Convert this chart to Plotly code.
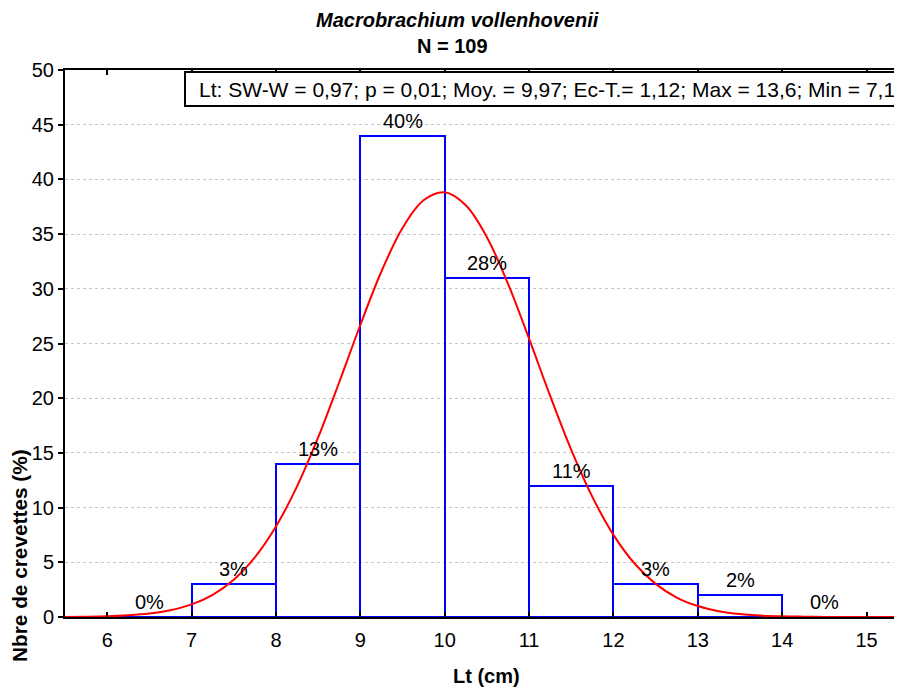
import plotly.graph_objects as go

# Histogram data
bin_left = [6, 7, 8, 9, 10, 11, 12, 13, 14]
counts = [0, 3, 14, 44, 31, 12, 3, 2, 0]
pct_labels = ["0%", "3%", "13%", "40%", "28%", "11%", "3%", "2%", "0%"]

# Fitted normal curve
curve_x = [5.5, 5.75, 6, 6.25, 6.5, 6.75, 7, 7.25, 7.5, 7.75, 8, 8.25, 8.5, 8.75, 9, 9.25, 9.5,
           9.75, 10, 10.25, 10.5, 10.75, 11, 11.25, 11.5, 11.75, 12, 12.25, 12.5, 12.75, 13,
           13.25, 13.5, 13.75, 14, 14.25, 14.5, 14.75, 15, 15.25, 15.5]
curve_y = [0.01, 0.03, 0.07, 0.16, 0.32, 0.62, 1.15, 2.03, 3.41, 5.45, 8.27, 11.94, 16.41,
           21.46, 26.69, 31.58, 35.56, 38.09, 38.82, 37.63, 34.72, 30.47, 25.44, 20.21, 15.27,
           10.98, 7.51, 4.89, 3.03, 1.78, 1.00, 0.53, 0.27, 0.13, 0.06, 0.03, 0.01, 0.004,
           0.0015, 0.0005, 0.0002]

x_ticks = [6, 7, 8, 9, 10, 11, 12, 13, 14, 15]
y_ticks = [0, 5, 10, 15, 20, 25, 30, 35, 40, 45, 50]

title_line1 = "Macrobrachium vollenhovenii"
title_line2 = "N = 109"
stats_text = "Lt: SW-W = 0,97; p = 0,01; Moy. = 9,97; Ec-T.= 1,12; Max = 13,6; Min = 7,1"
x_title = "Lt (cm)"
y_title = "Nbre de crevettes (%)"

FONT = "Liberation Sans, Arial, sans-serif"

# plot area in page pixels: x 65..902, y 70..617
PX0, PX1, PY0, PY1 = 65, 902, 70, 617


def px(sx):
    return (sx - PX0) / (PX1 - PX0)


def py(sy):
    return (PY1 - sy) / (PY1 - PY0)


bin_centers = [b + 0.5 for b in bin_left]

fig = go.Figure()
fig.add_trace(go.Bar(
    x=bin_centers, y=counts, width=1,
    marker=dict(color="rgba(0,0,0,0)", line=dict(color="#0000ff", width=2)),
    showlegend=False, hoverinfo="skip",
))
fig.add_trace(go.Scatter(
    x=curve_x, y=curve_y, mode="lines",
    line=dict(color="#ff0000", width=2, shape="spline"),
    showlegend=False, hoverinfo="skip",
))

annotations = []
for xc, yv, lab in zip(bin_centers, counts, pct_labels):
    annotations.append(dict(x=xc, y=yv, xref="x", yref="y", text=lab, showarrow=False,
                            yanchor="bottom", yshift=2,
                            font=dict(family=FONT, size=20, color="black")))

annotations += [
    dict(x=px(457), y=py(20), xref="paper", yref="paper", text="<b><i>" + title_line1 + "</i></b>",
         showarrow=False, yanchor="middle", font=dict(family=FONT, size=20, color="black")),
    dict(x=px(452), y=py(46), xref="paper", yref="paper", text="<b>" + title_line2 + "</b>",
         showarrow=False, yanchor="middle", font=dict(family=FONT, size=20, color="black")),
    dict(x=px(487), y=py(676), xref="paper", yref="paper",
         text="<b>" + x_title + "</b>", showarrow=False, yanchor="middle",
         font=dict(family=FONT, size=20, color="black")),
    dict(x=px(19), y=py(556), xref="paper", yref="paper",
         text="<b>" + y_title + "</b>", showarrow=False, textangle=-90,
         xanchor="center", yanchor="middle",
         font=dict(family=FONT, size=20.8, color="black")),
    dict(x=px(197), y=py(89), xref="paper", yref="paper",
         text=stats_text, showarrow=False, xanchor="left", yanchor="middle",
         font=dict(family=FONT, size=21, color="black")),
]

# statistics box, running past the right edge as in the reference
shapes = [dict(type="rect", xref="paper", yref="paper",
               x0=px(185), x1=px(915), y0=py(106), y1=py(72),
               line=dict(color="black", width=2), fillcolor="white", layer="above")]

# page body has an 8px margin: figure coordinates are page coordinates minus 8
fig.update_layout(
    width=894, height=681,
    margin=dict(l=PX0 - 8, r=0, t=PY0 - 8, b=681 - (PY1 - 8)),
    paper_bgcolor="white", plot_bgcolor="white",
    bargap=0,
    annotations=annotations,
    shapes=shapes,
    font=dict(family=FONT, size=20, color="black"),
)
fig.update_xaxes(
    range=[5.5, 15.42], tickvals=x_ticks, ticktext=[str(v) for v in x_ticks],
    showgrid=False, zeroline=False,
    showline=True, linecolor="black", linewidth=2, mirror="ticks",
    ticks="inside", ticklen=5, tickwidth=2, tickcolor="black",
    ticklabelstandoff=4,
    tickfont=dict(family=FONT, size=20, color="black"),
)
fig.update_yaxes(
    range=[0, 50], tickvals=y_ticks,
    showgrid=True, gridcolor="#c4c4c4", griddash="dot", gridwidth=1,
    zeroline=False,
    showline=True, linecolor="black", linewidth=2, mirror=False,
    ticks="outside", ticklen=5, tickwidth=2, tickcolor="black",
    ticklabelstandoff=0,
    tickfont=dict(family=FONT, size=20, color="black"),
)

fig.write_html("out.html")
